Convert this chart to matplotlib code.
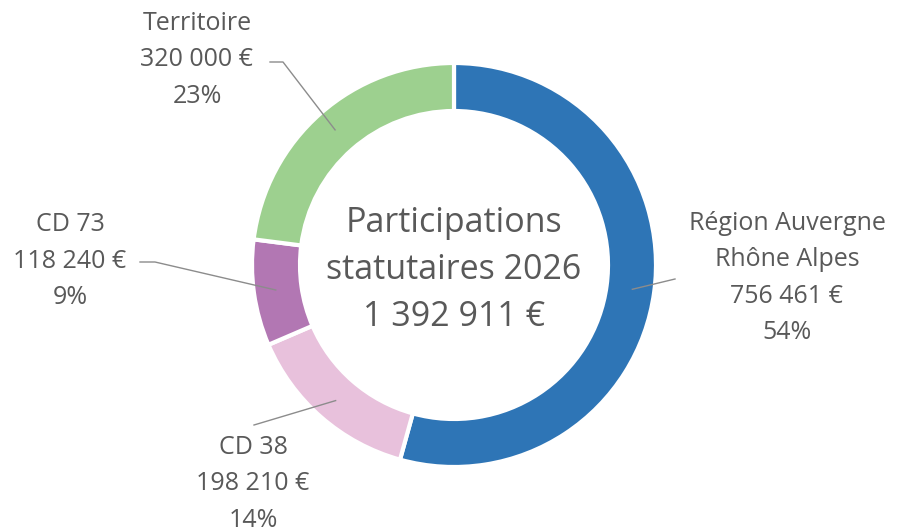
import numpy as np
import matplotlib.pyplot as plt

labels = ["Région Auvergne\nRhône Alpes", "CD 38", "CD 73", "Territoire"]
values = [756461, 198210, 118240, 320000]
percents = [54, 14, 9, 23]
colors = ["#2E75B6", "#E8C1DC", "#B277B3", "#9DD08F"]
title = "Participations\nstatutaires 2026"

# label placement (image pixel coords, y down)
label_xy = [(787, 278), (253, 484), (70, 261), (197, 60)]
elbow_xy = [(675, 279), (254, 425), (155, 262), (283, 62)]
end_xy = [None, None, (140, 262), (270, 62)]

W, H = 908, 532
cx, cy = 454, 265
r_out, r_in = 202, 154

def fmt(v):
    return f"{v:,}".replace(",", " ") + " €"

plt.rcParams["font.family"] = ["Open Sans", "DejaVu Sans"]
fig = plt.figure(figsize=(W / 100, H / 100), dpi=100)
ax = fig.add_axes([0, 0, 1, 1])

wedges, _ = ax.pie(values, colors=colors, startangle=90, counterclock=False,
                   center=(cx, H - cy), radius=r_out, frame=True,
                   wedgeprops=dict(width=r_out - r_in, edgecolor="white", linewidth=3))
ax.set_xlim(0, W)
ax.set_ylim(0, H)
ax.set_aspect("equal")
ax.axis("off")

total = sum(values)
ax.text(cx, H - 270, title + "\n" + fmt(total), ha="center", va="center",
        fontsize=24.5, color="#595959", linespacing=1.5)

for w, lab, v, p, (lx, ly), el, en in zip(wedges, labels, values, percents,
                                          label_xy, elbow_xy, end_xy):
    mid = np.deg2rad((w.theta1 + w.theta2) / 2)
    r = 180
    px, py = cx + r * np.cos(mid), (H - cy) + r * np.sin(mid)
    xs = [px, el[0]]
    ys = [py, H - el[1]]
    if en is not None:
        xs.append(en[0])
        ys.append(H - en[1])
    ax.plot(xs, ys, color="#8C8C8C", lw=1)
    ax.text(lx, H - ly, f"{lab}\n{fmt(v)}\n{p}%", ha="center", va="center",
            fontsize=18, color="#595959", linespacing=1.6)

fig.savefig("out.png", dpi=100, facecolor="white")
